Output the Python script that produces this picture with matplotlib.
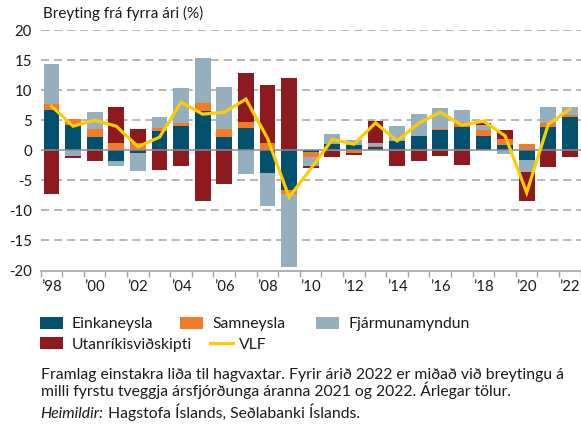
import matplotlib
matplotlib.use("Agg")
import matplotlib.pyplot as plt
import numpy as np
from matplotlib.patches import Rectangle
from matplotlib.lines import Line2D

plt.rcParams['font.family'] = ['Lato', 'DejaVu Sans']
plt.rcParams['lines.scale_dashes'] = False

years = list(range(1998, 2023))
tick_labels = ["’98", "’00", "’02", "’04", "’06", "’08", "’10", "’12",
               "’14", "’16", "’18", "’20", "’22"]

einkaneysla = [6.67, 4.17, 2.17, -1.83, -0.44, 3.17, 4.0, 6.5, 2.17, 3.67, -3.78, -6.67,
               -0.3, 1.0, 0.83, 0.55, 1.5, 2.33, 3.33, 3.83, 2.33, 0.83, -1.67, 3.83, 5.5]
samneysla = [1.0, 1.0, 1.33, 1.17, 1.2, 0.5, 0.5, 1.33, 1.33, 1.0, 1.17, -0.6,
             -0.85, -0.1, -0.45, 0.17, -0.15, -0.15, 0.17, 0.7, 1.11, 1.0, 1.0, 0.67, 0.33]
fjarmunamyndun = [6.67, -0.94, 2.83, -0.78, -3.06, 1.83, 5.83, 7.5, 7.0, -3.94, -5.5, -12.17,
                  -1.4, 1.72, 0.84, 0.5, 2.5, 3.67, 3.5, 2.23, 0.84, -0.55, -2.0, 2.67, 1.33]
utanrikisvidskipti = [-7.28, -0.33, -1.78, 6.0, 2.3, -3.33, -2.6, -8.5, -5.6, 8.17, 9.67, 12.0,
                      -0.35, -1.1, -0.4, 3.61, -2.5, -1.67, -1.0, -2.5, 0.32, 1.5, -4.83, -2.83, -1.17]
vlf = [7.33, 4.0, 5.0, 4.0, 0.6, 2.17, 8.0, 6.0, 6.33, 8.5, 2.0, -7.8,
       -3.1, 1.8, 1.0, 4.55, 1.55, 4.5, 6.33, 4.17, 4.85, 2.4, -7.05, 4.33, 6.83]

series_names = ["Einkaneysla", "Samneysla", "Fjármunamyndun", "Utanríkisviðskipti"]
series_vals = [einkaneysla, samneysla, fjarmunamyndun, utanrikisvidskipti]
colors = ["#00506E", "#F47A27", "#96AFBF", "#8E1A1F"]
vlf_color = "#FFCC00"
grid_color = "#A3A3A3"
text_color = "#1A1A1A"

W, H = 581, 426
fig = plt.figure(figsize=(W / 100, H / 100), dpi=100)

def fx(px):
    return px / W

def fy(py):
    return 1 - py / H

ax_left, ax_right, ax_top, ax_bot = 40.7, 580.7, 30.0, 270.5
ax = fig.add_axes([fx(ax_left), fy(ax_bot), (ax_right - ax_left) / W, (ax_bot - ax_top) / H])

x = np.arange(len(years))
pos_base = np.zeros(len(years))
neg_base = np.zeros(len(years))
bar_w = 0.73
for vals, c in zip(series_vals, colors):
    v = np.array(vals)
    pos = np.where(v > 0, v, 0)
    neg = np.where(v < 0, v, 0)
    ax.bar(x, pos, bottom=pos_base, width=bar_w, color=c, zorder=2, linewidth=0)
    ax.bar(x, neg, bottom=neg_base, width=bar_w, color=c, zorder=2, linewidth=0)
    pos_base += pos
    neg_base += neg

ax.plot(x, vlf, color=vlf_color, linewidth=2.3, zorder=4, solid_joinstyle='miter')

for gy in [-15, -10, -5, 5, 10, 15, 20]:
    ax.axhline(gy, color=grid_color, linewidth=1.1, linestyle=(0, (5.8, 3.6)), zorder=1)
ax.axhline(0, color="#8C8C8C", linewidth=1.1, zorder=3)

ax.set_xlim(-0.5, len(years) - 0.5)
ax.set_ylim(-20, 20)
ax.set_yticks([-20, -15, -10, -5, 0, 5, 10, 15, 20])
ax.set_yticklabels(["-20", "-15", "-10", "-5", "0", "5", "10", "15", "20"])
ax.tick_params(axis='y', length=0, pad=6.3, labelsize=10.8, labelcolor=text_color)

ax.set_xticks(x[::2])
ax.set_xticklabels(tick_labels)
ax.set_xticks(np.arange(-0.5, len(years)), minor=True)
ax.tick_params(axis='x', which='major', length=0, pad=7, labelsize=10.8, labelcolor=text_color)
ax.tick_params(axis='x', which='minor', length=4, width=1.0, color=grid_color, direction='out')

for s in ['top', 'right', 'left']:
    ax.spines[s].set_visible(False)
ax.spines['bottom'].set_color(grid_color)
ax.spines['bottom'].set_linewidth(1.2)

fig.text(fx(43), fy(18.3), "Breyting frá fyrra ári (%)", fontsize=11, color=text_color,
         ha='left', va='baseline')

# legend
def patch(px, py_top, c):
    fig.patches.append(Rectangle((fx(px), fy(py_top + 12)), 22.7 / W, 12 / H,
                                 transform=fig.transFigure, color=c, linewidth=0))

leg_fs = 11.3
patch(40, 317, colors[0])
fig.text(fx(71.7), fy(328.3), series_names[0], fontsize=leg_fs, color=text_color, va='baseline')
patch(180, 317, colors[1])
fig.text(fx(212), fy(328.3), series_names[1], fontsize=leg_fs, color=text_color, va='baseline')
patch(316, 317, colors[2])
fig.text(fx(348.7), fy(328.3), series_names[2], fontsize=leg_fs, color=text_color, va='baseline')
patch(40, 336.7, colors[3])
fig.text(fx(71.7), fy(348.7), series_names[3], fontsize=leg_fs, color=text_color, va='baseline')
fig.lines.append(Line2D([fx(210), fx(232.7)], [fy(342.5), fy(342.5)], transform=fig.transFigure,
                        color=vlf_color, linewidth=2.3))
fig.text(fx(239.3), fy(348.7), "VLF", fontsize=leg_fs, color=text_color, va='baseline')

fig.text(fx(40.7), fy(379.3),
         "Framlag einstakra liða til hagvaxtar. Fyrir árið 2022 er miðað við breytingu á",
         fontsize=leg_fs, color=text_color, va='baseline')
fig.text(fx(40.7), fy(396),
         "milli fyrstu tveggja ársfjórðunga áranna 2021 og 2022. Árlegar tölur.",
         fontsize=leg_fs, color=text_color, va='baseline')
t1 = fig.text(fx(40.7), fy(418), "Heimildir:", fontsize=leg_fs, color=text_color,
              va='baseline', style='italic')
fig.canvas.draw()
bb = t1.get_window_extent()
fig.text(bb.x1 / W + 4 / W, fy(418), "Hagstofa Íslands, Seðlabanki Íslands.", fontsize=leg_fs,
         color=text_color, va='baseline')

fig.savefig("out.png", dpi=100)
